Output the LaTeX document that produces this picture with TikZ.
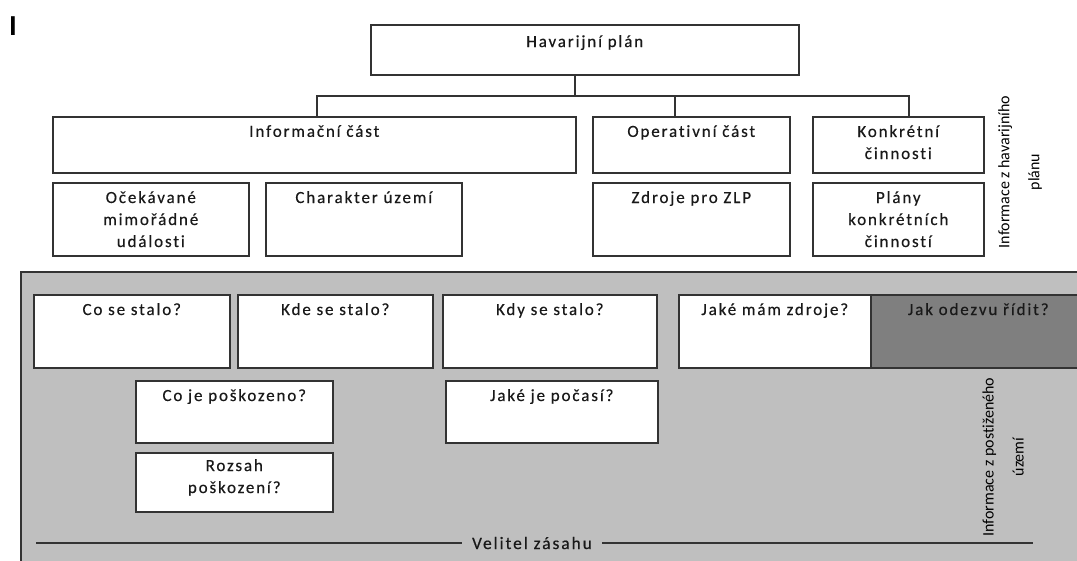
\documentclass[tikz,border=0pt]{standalone}
\usepackage{fontspec}
\setmainfont{Carlito}[LetterSpace=11,Ligatures=NoCommon,FakeBold=0.4]
\newfontfamily\narrowfont{Carlito}[Ligatures=NoCommon]
\newfontfamily\markfont{Carlito}[BoldFont=*-Bold]
\usepackage{tikz}
\usetikzlibrary{positioning}
\definecolor{boxline}{HTML}{333333}
\definecolor{areagray}{HTML}{BFBFBF}
\definecolor{darkgray}{HTML}{7F7F7F}

\begin{document}
\begin{tikzpicture}[x=1pt,y=-1pt]
  \tikzstyle{box}=[draw=boxline,line width=1.6pt,fill=white,anchor=north west,inner sep=0pt]
  \tikzstyle{txt}=[anchor=north,inner sep=0pt,align=center,yshift=-9pt,
                   font=\fontsize{17}{22}\selectfont,text=black!90]
  \tikzstyle{side}=[rotate=90,align=center,inner sep=0pt,
                    font=\narrowfont\fontsize{16}{30}\selectfont]
  \useasboundingbox (0,0) rectangle (1077,560);
  \clip (0,0) rectangle (1077,560);
  \node[anchor=north west,inner sep=0pt,font=\markfont\bfseries\fontsize{29}{29}\selectfont] (mark) at (9,16) {I};
  % plan part
  \node[box,minimum width=428,minimum height=50,label={[txt,yshift=-2pt]north:Havarijní plán}] (plan) at (370,24) {};
  \node[box,minimum width=523,minimum height=56,label={[txt]north:Informační část}] (info) at (52,116) {};
  \node[box,minimum width=197,minimum height=56,label={[txt]north:Operativní část}] (oper) at (592,116) {};
  \node[box,minimum width=171,minimum height=56,label={[txt]north:Konkrétní\\činnosti}] (konk) at (812,116) {};
  \node[box,minimum width=196,minimum height=73,label={[txt]north:Očekávané\\mimořádné\\události}] (udal) at (52,182) {};
  \node[box,minimum width=196,minimum height=73,label={[txt]north:Charakter území}] (uzemi) at (265,182) {};
  \node[box,minimum width=197,minimum height=73,label={[txt]north:Zdroje pro ZLP}] (zdroje) at (592,182) {};
  \node[box,minimum width=171,minimum height=73,label={[txt]north:Plány\\konkrétních\\činností}] (plany) at (812,182) {};
  \coordinate (j1) at (575,96);
  \coordinate (busL) at (317,96);
  \coordinate (j2) at (675,96);
  \coordinate (busR) at (909,96);
  \draw[boxline,line width=1.6pt] (plan.south -| j1) -- (j1);
  \draw[boxline,line width=1.6pt] (info.north -| busL) -- (busL) -- (busR) -- (konk.north -| busR);
  \draw[boxline,line width=1.6pt] (j2) -- (oper.north -| j2);
  \node[side] (sideplan) at (1020,172) {Informace z havarijního\\plánu};
  % area part
  \node[draw=boxline,line width=1.6pt,fill=areagray,anchor=north west,inner sep=0pt,
        minimum width=1080,minimum height=300] (area) at (20,271) {};
  \node[box,minimum width=196,minimum height=73,label={[txt]north:Co se stalo?}] (co) at (33,294) {};
  \node[box,minimum width=195,minimum height=73,label={[txt]north:Kde se stalo?}] (kde) at (237,294) {};
  \node[box,minimum width=214,minimum height=73,label={[txt]north:Kdy se stalo?}] (kdy) at (442,294) {};
  \node[box,minimum width=192,minimum height=73,label={[txt]north:Jaké mám zdroje?}] (mam) at (678,294) {};
  \node[box,fill=darkgray,minimum width=215,minimum height=73,label={[txt]north:Jak odezvu řídit?}] (ridit) at (870,294) {};
  \node[box,minimum width=197,minimum height=62,label={[txt]north:Co je poškozeno?}] (poskoz) at (135,380) {};
  \node[box,minimum width=212,minimum height=62,label={[txt]north:Jaké je počasí?}] (pocasi) at (445,380) {};
  \node[box,minimum width=197,minimum height=59,label={[txt,yshift=2pt]north:Rozsah\\poškození?}] (rozsah) at (135,452) {};
  \node[side] (sideuzemi) at (1003,457) {Informace z postiženého\\území};
  \node[inner sep=0pt,font=\fontsize{17.5}{20}\selectfont,text=black!90] (velitel) at (532,543) {Velitel zásahu};
  \coordinate (vl) at (36,543);
  \coordinate (vr) at (1033,543);
  \draw[boxline,line width=1.6pt] (vl) -- ([xshift=-10pt]velitel.west);
  \draw[boxline,line width=1.6pt] ([xshift=10pt]velitel.east) -- (vr);
\end{tikzpicture}
\end{document}
